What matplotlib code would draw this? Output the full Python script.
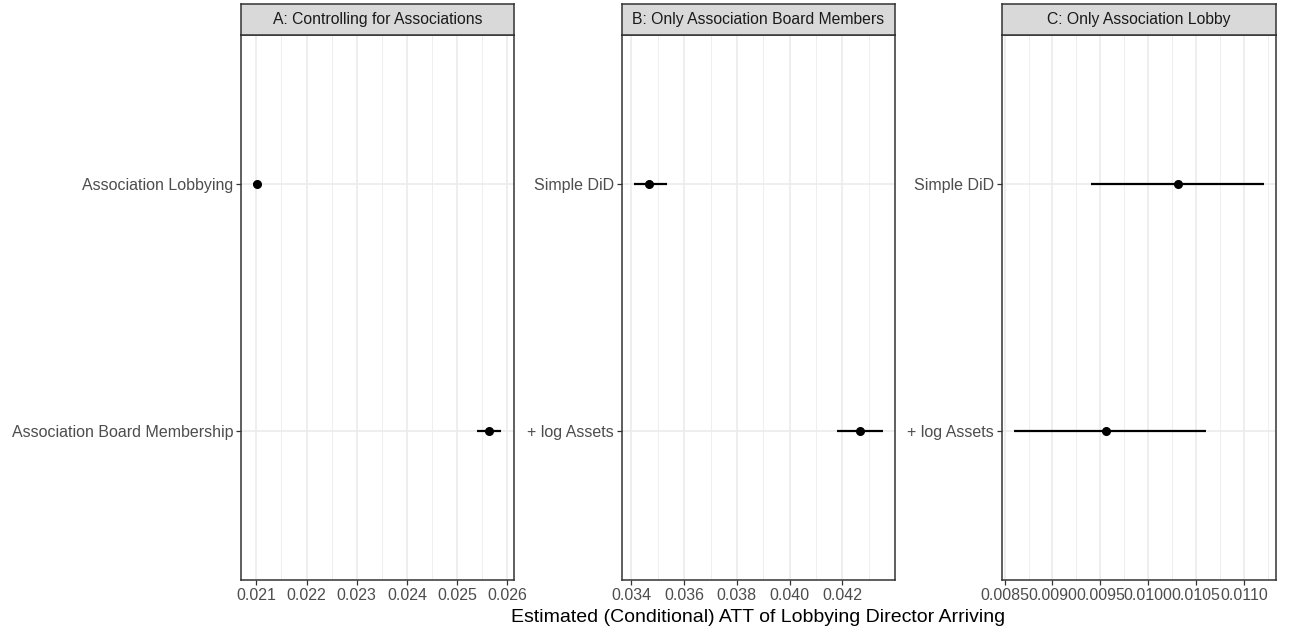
import numpy as np
import matplotlib
matplotlib.use("Agg")
import matplotlib.pyplot as plt

plt.rcParams["font.family"] = ["Liberation Sans", "DejaVu Sans"]

# panel titles
panel_titles = ["A: Controlling for Associations",
                "B: Only Association Board Members",
                "C: Only Association Lobby"]

# rows per panel, bottom row first
labels_a = ["Association Board Membership", "Association Lobbying"]
est_a = [0.02564, 0.02102]
lo_a = [0.02539, 0.02094]
hi_a = [0.02588, 0.02110]

labels_b = ["+ log Assets", "Simple DiD"]
est_b = [0.04268, 0.03468]
lo_b = [0.04181, 0.03410]
hi_b = [0.04353, 0.03534]

labels_c = ["+ log Assets", "Simple DiD"]
est_c = [0.009558, 0.010316]
lo_c = [0.008600, 0.009399]
hi_c = [0.010604, 0.011204]

ticks_a = [0.021, 0.022, 0.023, 0.024, 0.025, 0.026]
ticks_b = [0.034, 0.036, 0.038, 0.040, 0.042]
ticks_c = [0.0085, 0.0090, 0.0095, 0.0100, 0.0105, 0.0110]

xlabel = "Estimated (Conditional) ATT of Lobbying Director Arriving"

W, H = 1290, 633
fig = plt.figure(figsize=(W / 100, H / 100), dpi=100)

# pixel boxes of the three panels (left, right)
panel_px = [(241, 513.7), (621.7, 895), (1001.7, 1276)]
top_px, bot_px, strip_top = 35, 580, 4

panels = [
    (labels_a, est_a, lo_a, hi_a, ticks_a, "%.3f"),
    (labels_b, est_b, lo_b, hi_b, ticks_b, "%.3f"),
    (labels_c, est_c, lo_c, hi_c, ticks_c, "%.4f"),
]

grid_col = "#EBEBEB"
frame_col = "#333333"
text_col = "#4D4D4D"

for i, (labs, est, lo, hi, ticks, fmt) in enumerate(panels):
    x0, x1 = panel_px[i]
    ax = fig.add_axes([x0 / W, 1 - bot_px / H, (x1 - x0) / W, (bot_px - top_px) / H])
    y = np.arange(len(labs))

    # ggplot-like 5% expansion
    dmin, dmax = min(lo), max(hi)
    pad = (dmax - dmin) * 0.05
    ax.set_xlim(dmin - pad, dmax + pad)
    ax.set_ylim(-0.6, len(labs) - 0.4)

    step = ticks[1] - ticks[0]
    minors = [t + step / 2 for t in [ticks[0] - step] + ticks]
    for m in minors:
        ax.axvline(m, color=grid_col, lw=0.6, zorder=0)
    for t in ticks:
        ax.axvline(t, color=grid_col, lw=1.2, zorder=0)
    for yy in y:
        ax.axhline(yy, color=grid_col, lw=1.2, zorder=0)

    ax.hlines(y, lo, hi, color="black", lw=1.6, zorder=3)
    ax.plot(est, y, "o", color="black", ms=5.5, zorder=4)

    ax.set_xticks(ticks)
    ax.set_xticklabels([fmt % t for t in ticks])
    ax.set_yticks(y)
    ax.set_yticklabels(labs)
    ax.tick_params(axis="both", colors=frame_col, labelcolor=text_col,
                   labelsize=11.5, length=3.5, width=0.9, pad=2)
    for s in ax.spines.values():
        s.set_color(frame_col)
        s.set_linewidth(1.1)

    # facet strip
    sax = fig.add_axes([x0 / W, 1 - top_px / H, (x1 - x0) / W, (top_px - strip_top) / H])
    sax.set_xticks([])
    sax.set_yticks([])
    sax.set_facecolor("#D9D9D9")
    for s in sax.spines.values():
        s.set_color(frame_col)
        s.set_linewidth(1.1)
    sax.text(0.5, 0.5, panel_titles[i], ha="center", va="center",
             fontsize=11.3, color="#1A1A1A", transform=sax.transAxes)

fig.text((241 + 1276) / 2 / W, 1 - 617 / H, xlabel, ha="center", va="center",
         fontsize=14, color="black")

fig.savefig("out.png", dpi=100)
